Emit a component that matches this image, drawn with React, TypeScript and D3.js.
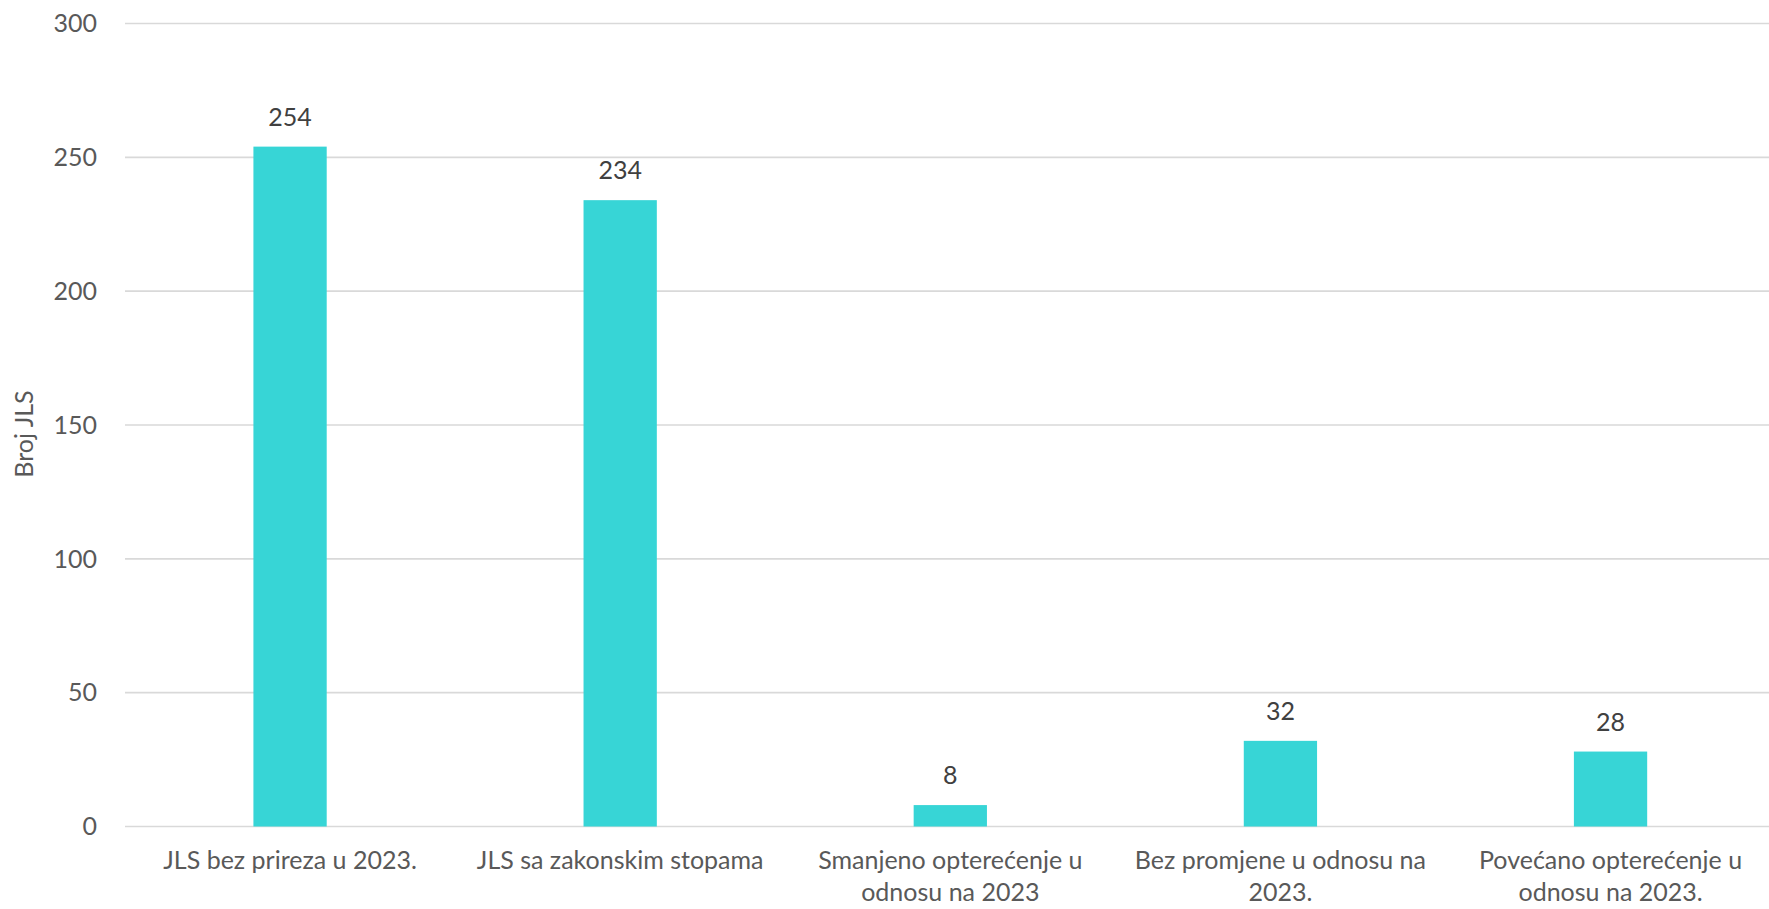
import React from "react";
import * as d3 from "d3";

const categories: string[] = [
  "JLS bez prireza u 2023.",
  "JLS sa zakonskim stopama",
  "Smanjeno opterećenje u\nodnosu na 2023",
  "Bez promjene u odnosu na\n2023.",
  "Povećano opterećenje u\nodnosu na 2023.",
];
const values: number[] = [254, 234, 8, 32, 28];
const yTicks: number[] = [0, 50, 100, 150, 200, 250, 300];
const yAxisTitle = "Broj JLS";

const W = 1769;
const H = 909;
const FONT = "Lato, 'Open Sans', sans-serif";

export default function App() {
  const left = 125;
  const right = 1775.6;
  const top = 23.5;
  const bottom = 826.5;

  const x = d3.scaleBand<string>().domain(categories).range([left, right]).paddingInner(0.778).paddingOuter(0.389);
  const y = d3.scaleLinear().domain([0, 300]).range([bottom, top]);

  return (
    <svg width={W} height={H} style={{ position: "absolute", left: 0, top: 0, background: "#fff" }} fontFamily={FONT}>
      {yTicks.map((t) => (
        <g key={t}>
          <line x1={left} x2={W} y1={y(t)} y2={y(t)} stroke="#D9D9D9" strokeWidth={1.6} />
          <text x={97} y={y(t)} dy="0.35em" textAnchor="end" fontSize={25} fill="#595959">
            {t}
          </text>
        </g>
      ))}
      {categories.map((c, i) => {
        const bx = x(c)!;
        const bw = x.bandwidth();
        const cx = bx + bw / 2;
        return (
          <g key={c}>
            <rect x={bx} y={y(values[i])} width={bw} height={y(0) - y(values[i])} fill="#37D5D6" />
            <text x={cx} y={y(values[i]) - 21} textAnchor="middle" fontSize={25} fill="#404040">
              {values[i]}
            </text>
            {c.split("\n").map((line, j) => (
              <text key={j} x={cx} y={869 + j * 32} textAnchor="middle" fontSize={25} fill="#595959">
                {line}
              </text>
            ))}
          </g>
        );
      })}
      <text
        transform={`translate(33, ${(top + bottom) / 2 + 9}) rotate(-90)`}
        textAnchor="middle"
        fontSize={25}
        fill="#595959"
      >
        {yAxisTitle}
      </text>
    </svg>
  );
}
